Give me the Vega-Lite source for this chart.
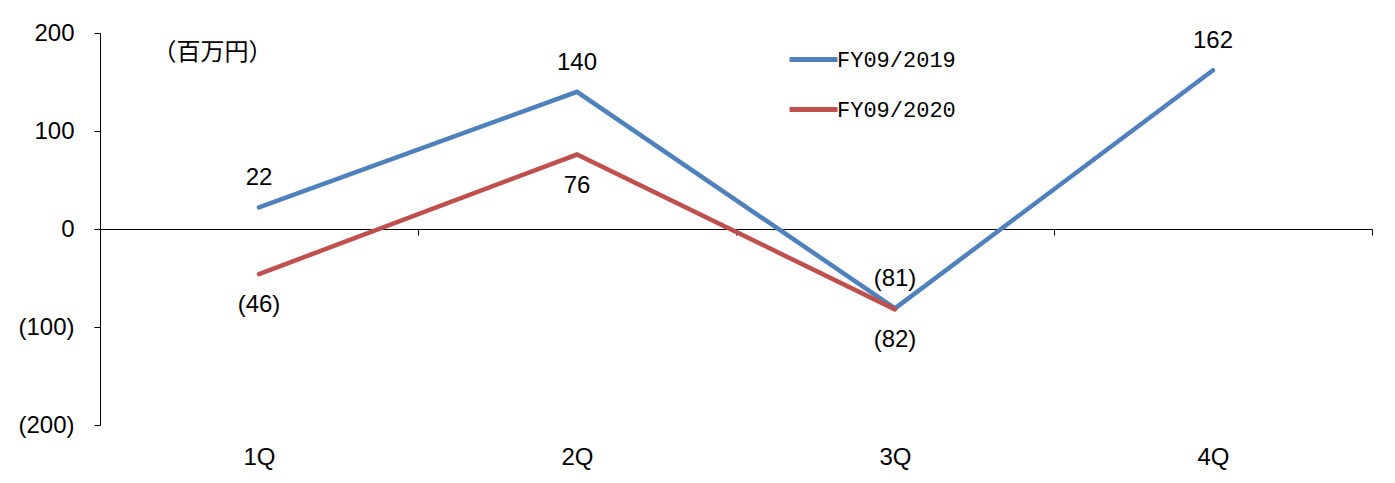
{
  "$schema": "https://vega.github.io/schema/vega-lite/v6.json",
  "width": 1272,
  "height": 392,
  "autosize": {"type": "none"},
  "padding": {"left": 100, "top": 33, "right": 23, "bottom": 58},
  "background": "white",
  "config": {
    "view": {"stroke": null},
    "font": "Liberation Sans",
    "axis": {"labelFont": "Liberation Sans", "labelFontSize": 24, "labelColor": "#000", "domainColor": "#000", "tickColor": "#000", "grid": false}
  },
  "data": {
    "values": [
      {"q": "1Q", "series": "FY09/2019", "v": 22},
      {"q": "2Q", "series": "FY09/2019", "v": 140},
      {"q": "3Q", "series": "FY09/2019", "v": -81},
      {"q": "4Q", "series": "FY09/2019", "v": 162},
      {"q": "1Q", "series": "FY09/2020", "v": -46},
      {"q": "2Q", "series": "FY09/2020", "v": 76},
      {"q": "3Q", "series": "FY09/2020", "v": -82}
    ]
  },
  "encoding": {
    "x": {
      "field": "q", "type": "ordinal", "bandPosition": 0.5,
      "scale": {"type": "band", "paddingInner": 0, "paddingOuter": 0},
      "axis": {"title": null, "orient": "bottom", "offset": -196, "tickBand": "extent", "tickSize": 6, "labelAngle": 0, "labelBaseline": "alphabetic", "labelPadding": 229, "domainWidth": 1}
    },
    "y": {
      "field": "v", "type": "quantitative",
      "scale": {"domain": [-200, 200], "nice": false},
      "axis": {"values": [-200, -100, 0, 100, 200], "format": "(d", "tickSize": 6, "labelPadding": 20, "labelBaseline": "middle",
        "title": "（百万円）", "titleAngle": 0, "titleX": 52, "titleY": 19, "titleAlign": "left", "titleBaseline": "middle",
        "titleFont": "Noto Sans CJK JP", "titleFontSize": 24, "titleFontWeight": "normal", "titleColor": "#000"}
    }
  },
  "layer": [
    {
      "mark": {"type": "line", "strokeWidth": 4.5, "strokeCap": "round", "strokeJoin": "miter"},
      "encoding": {
        "color": {
          "field": "series", "type": "nominal",
          "scale": {"domain": ["FY09/2019", "FY09/2020"], "range": ["#4F81BD", "#C0504D"]},
          "legend": {"title": null, "orient": "none", "legendX": 687, "legendY": 0, "padding": 0,
            "symbolType": "stroke", "symbolSize": 2304, "symbolStrokeWidth": 5, "rowPadding": 12, "labelOffset": -3,
            "labelFont": "Liberation Mono", "labelFontSize": 22, "labelColor": "#000", "labelLimit": 300}
        }
      }
    },
    {
      "transform": [{"filter": "datum.series === 'FY09/2019'"}],
      "mark": {"type": "text", "dy": -29, "fontSize": 24, "font": "Liberation Sans", "color": "#000", "baseline": "middle"},
      "encoding": {"text": {"field": "v", "type": "quantitative", "format": "(d"}}
    },
    {
      "transform": [{"filter": "datum.series === 'FY09/2020'"}],
      "mark": {"type": "text", "dy": 31, "fontSize": 24, "font": "Liberation Sans", "color": "#000", "baseline": "middle"},
      "encoding": {"text": {"field": "v", "type": "quantitative", "format": "(d"}}
    }
  ]
}
